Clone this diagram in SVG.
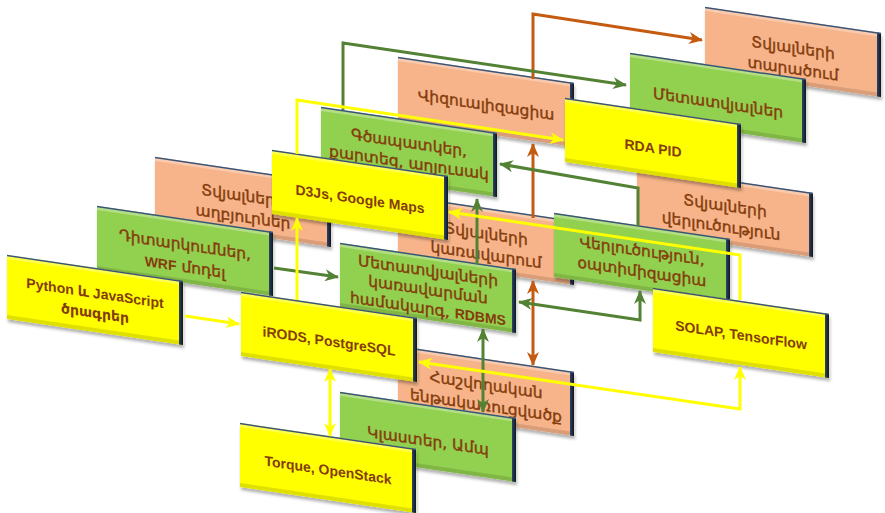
<svg xmlns="http://www.w3.org/2000/svg" width="885" height="513" viewBox="0 0 885 513">
<style>
.pe{fill:#F7B48A}
.gr{fill:#92D050}
.ye{fill:#FFFF00}
.am{font-family:"DejaVu Sans",sans-serif;font-size:15.5px;fill:#843C0C;stroke:#843C0C;stroke-width:0.4px;text-anchor:middle}
.la{font-family:"Liberation Sans","DejaVu Sans",sans-serif;font-weight:bold;font-size:14px;fill:#843C0C;text-anchor:middle}
.lb{font-family:"Liberation Sans","DejaVu Sans",sans-serif;font-weight:bold;font-size:14px;stroke:none}
.c{fill:none;stroke-width:3;stroke-linejoin:miter}
.cy{stroke:#FFFF00}
.cg{stroke:#548235}
.co{stroke:#C55A11}
</style>
<defs>
<linearGradient id="edge" x1="0" y1="0" x2="1" y2="0">
<stop offset="0" stop-color="#2E4466"/>
<stop offset="1" stop-color="#0E1624"/>
</linearGradient>
<filter id="sh" x="-10%" y="-10%" width="130%" height="140%">
<feDropShadow dx="1" dy="3" stdDeviation="1.5" flood-color="#000" flood-opacity="0.3"/>
</filter>
<g id="bev">
<rect width="176" height="4" fill="#fff" opacity="0.3"/>
<rect y="60" width="176" height="4" fill="#000" opacity="0.12"/>
<rect x="172" width="4" height="64" fill="url(#edge)"/>
<line x1="0" y1="0.6" x2="176" y2="0.6" stroke="#3A5577" stroke-width="1.5"/>
</g>
<marker id="my" viewBox="0 0 14 12" refX="13" refY="6" markerWidth="14" markerHeight="12" markerUnits="userSpaceOnUse" orient="auto-start-reverse"><path d="M0,0 L14,6 L0,12 L4,6 z" fill="#FFFF00"/></marker>
<marker id="mg" viewBox="0 0 14 12" refX="13" refY="6" markerWidth="14" markerHeight="12" markerUnits="userSpaceOnUse" orient="auto-start-reverse"><path d="M0,0 L14,6 L0,12 L4,6 z" fill="#548235"/></marker>
<marker id="mo" viewBox="0 0 14 12" refX="13" refY="6" markerWidth="14" markerHeight="12" markerUnits="userSpaceOnUse" orient="auto-start-reverse"><path d="M0,0 L14,6 L0,12 L4,6 z" fill="#C55A11"/></marker>
</defs>
<rect width="885" height="513" fill="#fff"/>

<!-- peach layer -->
<g id="p-taracum" transform="translate(705,7) skewY(8.4)">
<rect class="pe" width="176" height="64" filter="url(#sh)"/><use href="#bev"/>
<text class="am" x="88" y="33">Տվյալների</text>
<text class="am" x="88" y="54">տարածում</text>
</g>
<g id="p-viz" transform="translate(398,57) skewY(8.4)">
<rect class="pe" width="176" height="64" filter="url(#sh)"/><use href="#bev"/>
<text class="am" x="88" y="40">Վիզուալիզացիա</text>
</g>
<g id="p-aghbyur" transform="translate(155,157) skewY(8.4)">
<rect class="pe" width="176" height="64" filter="url(#sh)"/><use href="#bev"/>
<text class="am" x="88" y="31">Տվյալների</text>
<text class="am" x="88" y="52">աղբյուրներ</text>
</g>
<g id="p-karavar" transform="translate(398,195) skewY(8.4)">
<rect class="pe" width="176" height="64" filter="url(#sh)"/><use href="#bev"/>
<text class="am" x="88" y="31">Տվյալների</text>
<text class="am" x="88" y="52">կառավարում</text>
</g>
<g id="p-verluc" transform="translate(637,167) skewY(8.4)">
<rect class="pe" width="176" height="64" filter="url(#sh)"/><use href="#bev"/>
<text class="am" x="88" y="31">Տվյալների</text>
<text class="am" x="84" y="52">վերլուծություն</text>
</g>
<g id="p-hashv" transform="translate(398,346) skewY(8.4)">
<rect class="pe" width="176" height="64" filter="url(#sh)"/><use href="#bev"/>
<text class="am" x="88" y="31">Հաշվողական</text>
<text class="am" x="88" y="52">ենթակառուցվածք</text>
</g>

<!-- green layer -->
<g id="g-meta" transform="translate(630,53) skewY(8.4)">
<rect class="gr" width="176" height="64" filter="url(#sh)"/><use href="#bev"/>
<text class="am" x="88" y="42">Մետատվյալներ</text>
</g>
<g id="g-gcap" transform="translate(321,107) skewY(8.4)">
<rect class="gr" width="176" height="64" filter="url(#sh)"/><use href="#bev"/>
<text class="am" x="88" y="28">Գծապատկեր,</text>
<text class="am" x="88" y="48">քարտեզ, աղյուսակ</text>
</g>
<g id="g-ditark" transform="translate(97,206) skewY(8.4)">
<rect class="gr" width="176" height="64" filter="url(#sh)"/><use href="#bev"/>
<text class="am" x="88" y="31">Դիտարկումներ,</text>
<text class="am" x="88" y="53"><tspan class="lb">WRF</tspan> մոդել</text>
</g>
<g id="g-rdbms" transform="translate(340,243) skewY(8.4)">
<rect class="gr" width="176" height="64" filter="url(#sh)"/><use href="#bev"/>
<text class="am" x="88" y="20">Մետատվյալների</text>
<text class="am" x="88" y="39">կառավարման</text>
<text class="am" x="88" y="58">համակարգ, <tspan class="lb">RDBMS</tspan></text>
</g>
<g id="g-verluc" transform="translate(554,213) skewY(8.4)">
<rect class="gr" width="176" height="64" filter="url(#sh)"/><use href="#bev"/>
<text class="am" x="88" y="30">Վերլուծություն,</text>
<text class="am" x="88" y="51">օպտիմիզացիա</text>
</g>
<g id="g-klast" transform="translate(340,392) skewY(8.4)">
<rect class="gr" width="176" height="64" filter="url(#sh)"/><use href="#bev"/>
<text class="am" x="88" y="41">Կլաստեր, Ամպ</text>
</g>

<!-- yellow layer -->
<g id="y-rda" transform="translate(565,98) skewY(8.4)">
<rect class="ye" width="176" height="64" filter="url(#sh)"/><use href="#bev"/>
<text class="la" x="88" y="42">RDA PID</text>
</g>
<g id="y-d3" transform="translate(272,150) skewY(8.4)">
<rect class="ye" width="176" height="64" filter="url(#sh)"/><use href="#bev"/>
<text class="la" x="88" y="41">D3Js, Google Maps</text>
</g>
<g id="y-python" transform="translate(7,255) skewY(8.4)">
<rect class="ye" width="176" height="64" filter="url(#sh)"/><use href="#bev"/>
<text class="la" x="88" y="30">Python և JavaScript</text>
<text class="la" x="88" y="50">ծրագրեր</text>
</g>
<g id="y-irods" transform="translate(241,292) skewY(8.4)">
<rect class="ye" width="176" height="64" filter="url(#sh)"/><use href="#bev"/>
<text class="la" x="88" y="41">iRODS, PostgreSQL</text>
</g>
<g id="y-solap" transform="translate(653,288) skewY(8.4)">
<rect class="ye" width="176" height="64" filter="url(#sh)"/><use href="#bev"/>
<text class="la" x="88" y="39">SOLAP, TensorFlow</text>
</g>
<g id="y-torque" transform="translate(240,423) skewY(8.4)">
<rect class="ye" width="176" height="64" filter="url(#sh)"/><use href="#bev"/>
<text class="la" x="88" y="39">Torque, OpenStack</text>
</g>

<!-- connectors -->
<g id="connectors">
<path class="c co" d="M533,79 L533,14 L702,40" marker-end="url(#mo)"/>
<path class="c co" d="M533,218 L533,144" marker-end="url(#mo)"/>
<path class="c co" d="M533,281 L533,365" marker-start="url(#mo)" marker-end="url(#mo)"/>
<path class="c cg" d="M343,110 L343,43 L626,85" marker-end="url(#mg)"/>
<path class="c cg" d="M274,268 L338,277" marker-end="url(#mg)"/>
<path class="c cg" d="M477,264 L477,199" marker-end="url(#mg)"/>
<path class="c cg" d="M483,329 L483,412" marker-start="url(#mg)" marker-end="url(#mg)"/>
<path class="c cg" d="M638,226 L638,188 L500,164" marker-end="url(#mg)"/>
<path class="c cg" d="M519,302 L640,320 L640,291" marker-start="url(#mg)" marker-end="url(#mg)"/>
<path class="c cy" d="M185,316 L239,324" marker-end="url(#my)"/>
<path class="c cy" d="M297,300 L297,218" marker-end="url(#my)"/>
<path class="c cy" d="M297,154 L297,100 L563,140" marker-end="url(#my)"/>
<path class="c cy" d="M740,300 L740,255 L449,212" marker-end="url(#my)"/>
<path class="c cy" d="M330,369 L330,436" marker-start="url(#my)" marker-end="url(#my)"/>
<path class="c cy" d="M419,362 L740,409 L740,367" marker-start="url(#my)" marker-end="url(#my)"/>
</g>
</svg>
